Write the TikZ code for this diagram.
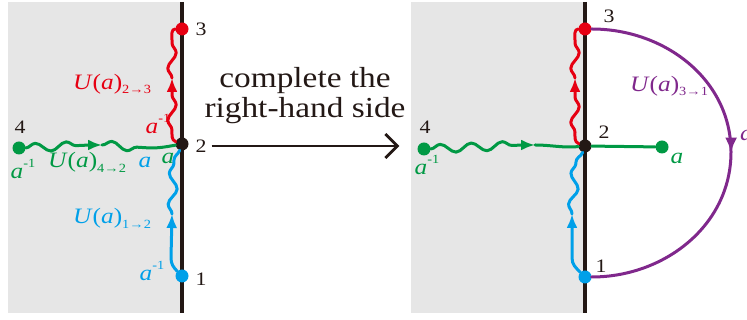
\documentclass[tikz,border=0pt]{standalone}
\usepackage{fontspec}
\setmainfont{Liberation Serif}[FakeStretch=1.15]
\usetikzlibrary{arrows.meta,decorations.pathmorphing,decorations.markings}

\definecolor{wallc}{RGB}{35,24,21}
\definecolor{halfgray}{RGB}{230,230,230}
\definecolor{ured}{RGB}{230,0,18}
\definecolor{ugreen}{RGB}{0,153,68}
\definecolor{ublue}{RGB}{0,160,233}
\definecolor{upurple}{RGB}{128,40,140}

\newcommand{\Uop}[1]{\textit{U}(\textit{a})\raisebox{-0.22em}{\fontsize{12.5}{12.5}\selectfont #1}}
\newcommand{\ainv}{\textit{a}\raisebox{0.5em}{\fontsize{12.5}{12.5}\selectfont -1}}

\begin{document}
\begin{tikzpicture}[
  x=1pt, y=1pt,
  wall/.style={draw=wallc, line width=3.2pt},
  dot/.style={circle, fill=#1, inner sep=0pt, minimum size=13pt},
  num/.style={text=wallc, font=\fontsize{19}{19}\selectfont, inner sep=1pt},
  ulab/.style={text=#1, font=\fontsize{22}{22}\selectfont, inner sep=1pt},
  wline/.style={draw=#1, line width=3pt, line cap=round, line join=round},
  snk/.style={decoration={snake, amplitude=4.2pt, segment length=31pt}},
  tip/.style={-{Latex[length=14pt,width=11pt]}},
  bigarr/.style={draw=wallc, line width=2.8pt, -{Straight Barb[length=12pt,width=24pt]}}
]
  \useasboundingbox (0,0) rectangle (747,320);

  % half planes
  \fill[halfgray] (8,7) rectangle (182,318);
  \fill[halfgray] (411,7) rectangle (585,318);
  \draw[wall] (182,318) -- (182,7);
  \draw[wall] (585,318) -- (585,7);

  % left side
  \node[dot=ured] (n3) at (182,291) {};
  \node[dot=wallc] (n2) at (182,176) {};
  \node[dot=ublue] (n1) at (182,44) {};
  \node[dot=ugreen] (n4) at (19,172) {};
  \node[num] (l3) at (201,291) {3};
  \node[num] (l2) at (201,174) {2};
  \node[num] (l1) at (201,41) {1};
  \node[num] (l4) at (20,193) {4};

  \coordinate (rm) at (172,242);
  \coordinate (gm) at (102,175);
  \coordinate (bm) at (172,106);
  \draw[wline=ured, tip] (n2) to[out=160,in=-90] (172,190) decorate[snk]{(172,190) -- (172,232)} -- (rm);
  \draw[wline=ured] (rm) decorate[snk]{(rm) -- (172,280)} to[out=90,in=180] (n3);
  \draw[wline=ugreen, tip] (n4.east) decorate[snk]{(n4.east) -- (90,175)} -- (gm);
  \draw[wline=ugreen] (gm) decorate[snk]{(gm) -- (150,172)} to[out=0,in=190] (n2);
  \draw[wline=ublue, tip] (n1) to[out=135,in=-90] (171,62) -- (bm);
  \draw[wline=ublue] (bm) decorate[snk]{(bm) -- (174,160)} to[out=90,in=-110] (n2);

  \node[ulab=ured] (u23) at (112,236) {\Uop{2→3}};
  \node[ulab=ured] (ar) at (158,196) {\ainv};
  \node[ulab=ugreen] (u42) at (87,158) {\Uop{4→2}};
  \node[ulab=ugreen] (ag4) at (23,151) {\ainv};
  \node[ulab=ublue] (ab) at (145,158) {\textit{a}};
  \node[ulab=ugreen] (ag) at (168,162) {\textit{a}};
  \node[ulab=ublue] (u12) at (112,102) {\Uop{1→2}};
  \node[ulab=ublue] (ab1) at (152,49) {\ainv};

  % right side
  \node[dot=ured] (n3r) at (585,291) {};
  \node[dot=wallc] (n2r) at (585,174) {};
  \node[dot=ublue] (n1r) at (585,43) {};
  \node[dot=ugreen] (n4r) at (424,171) {};
  \node[dot=ugreen] (n5r) at (662,173) {};
  \node[num] (l3r) at (609,304) {3};
  \node[num] (l2r) at (604,188) {2};
  \node[num] (l1r) at (601,54) {1};
  \node[num] (l4r) at (425,193) {4};

  \coordinate (rmr) at (575,242);
  \coordinate (gmr) at (535,175);
  \coordinate (bmr) at (572,106);
  \coordinate (pr) at (731,168);
  \draw[wline=ured, tip] (n2r) to[out=160,in=-90] (575,188) decorate[snk]{(575,188) -- (575,232)} -- (rmr);
  \draw[wline=ured] (rmr) decorate[snk]{(rmr) -- (575,280)} to[out=90,in=180] (n3r);
  \draw[wline=ugreen, tip] (n4r.east) decorate[snk]{(n4r.east) -- (523,175)} -- (gmr);
  \draw[wline=ugreen] (gmr) to[out=0,in=185] (n2r);
  \draw[wline=ublue, tip] (n1r) to[out=135,in=-90] (572,62) -- (bmr);
  \draw[wline=ublue] (bmr) decorate[snk]{(bmr) -- (576,158)} to[out=90,in=-110] (n2r);
  \draw[wline=ugreen] (n2r) -- (n5r);
  \draw[wline=upurple, postaction={decorate, decoration={markings,
      mark=at position 0.5 with {\arrow{Latex[length=15pt,width=12pt]}}}}]
    (n3r) to[out=0,in=90] (pr) to[out=-90,in=0] (n1r);

  \node[ulab=ugreen] (ag4r) at (427,155) {\ainv};
  \node[ulab=ugreen] (ag5r) at (677,162) {\textit{a}};
  \node[ulab=upurple] (u31) at (669,234) {\Uop{3→1}};
  \node[ulab=upurple, anchor=west] (apr) at (739,185) {\textit{a}};

  % the step in between
  \node[text=wallc, font=\fontsize{29}{30}\selectfont, align=center] (cmt) at (305,224) {complete the\\right-hand side};
  \draw[bigarr, shorten <=4pt, shorten >=18pt] (l2.east) -- (l2.east -| n4r.west);
\end{tikzpicture}
\end{document}
